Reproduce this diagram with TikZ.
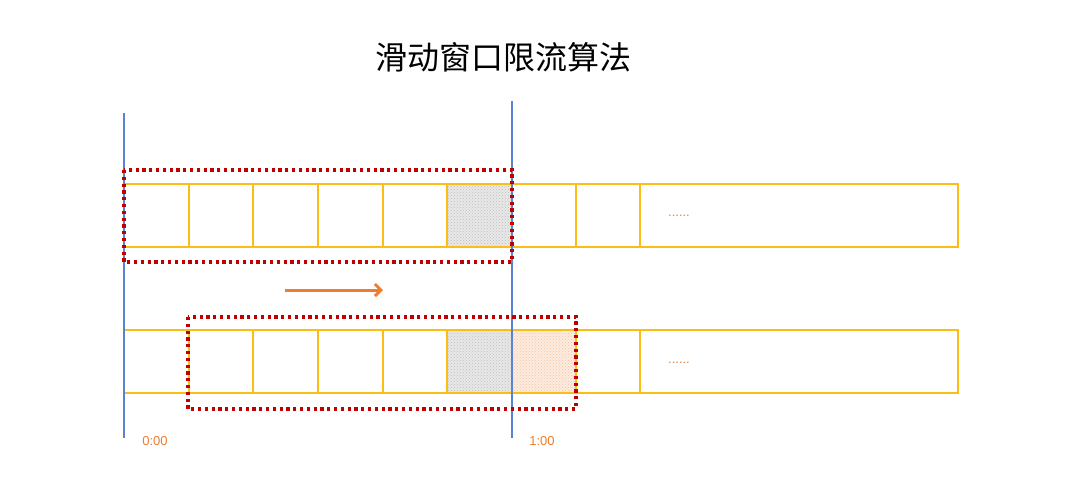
\documentclass[tikz,border=0pt]{standalone}
\usepackage{fontspec}
\setsansfont{Liberation Sans}
\newfontfamily\cjk{Noto Sans CJK SC}
\usetikzlibrary{patterns,arrows.meta}
\definecolor{cellc}{RGB}{250,190,20}
\definecolor{boxr}{RGB}{190,0,0}
\definecolor{vline}{RGB}{90,130,210}
\definecolor{org}{RGB}{237,125,49}
\begin{document}
\begin{tikzpicture}[x=1pt,y=-1pt,
  cell/.style={draw=cellc,line width=1.5pt},
  win/.style={draw=boxr,line width=3.2pt,dash pattern=on 3.2pt off 3.6pt},
  tl/.style={draw=vline,line width=1.2pt},
  lab/.style={text=org,font=\sffamily\fontsize{13}{15}\selectfont}]
\useasboundingbox (0,0) rectangle (1080,485);
\node (title) at (503,57) {\cjk\fontsize{32}{36}\selectfont 滑动窗口限流算法};
% row 1
\fill[gray!18] (447,184) rectangle (512,247);
\fill[pattern=crosshatch dots,pattern color=gray!50] (447,184) rectangle (512,247);
\draw[cell] (124,184) rectangle (958,247);
\foreach \x in {189,253,318,383,447,512,576,640} \draw[cell] (\x,184) -- (\x,247);
% row 2
\fill[gray!18] (447,330) rectangle (512,393);
\fill[pattern=crosshatch dots,pattern color=gray!50] (447,330) rectangle (512,393);
\fill[org!15] (512,330) rectangle (576,393);
\fill[pattern=crosshatch dots,pattern color=org!45] (512,330) rectangle (576,393);
\draw[cell] (124,330) rectangle (958,393);
\foreach \x in {189,253,318,383,447,512,576,640} \draw[cell] (\x,330) -- (\x,393);
\node[lab] (d1) at (679,216) {......};
\node[lab] (d2) at (679,363) {......};
% time lines
\coordinate (a0) at (124,113); \coordinate (a1) at (124,438);
\coordinate (b0) at (512,101); \coordinate (b1) at (512,438);
\draw[tl] (a0) -- (a1);
\draw[tl] (b0) -- (b1);
% windows
\draw[win] (124,170) rectangle (512,262);
\draw[win] (188,317) rectangle (576,409);
% arrow
\coordinate (s) at (285,290); \coordinate (e) at (383,290);
\draw[org,line width=3pt,-{Straight Barb[length=6pt,width=12pt]}] (s) -- (e);
\node[lab] (t0) at (155,441) {0:00};
\node[lab] (t1) at (542,441) {1:00};
\end{tikzpicture}
\end{document}
